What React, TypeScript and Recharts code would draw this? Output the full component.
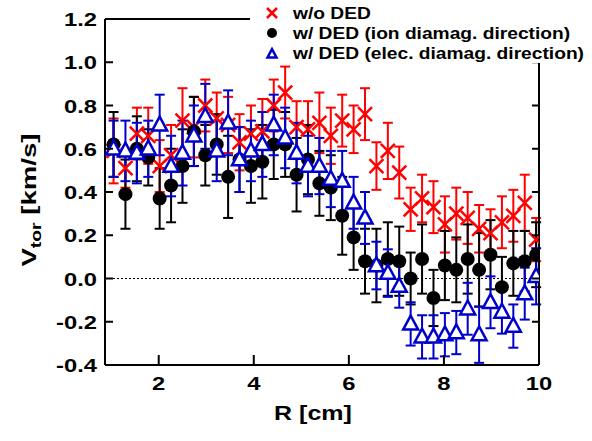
import React from "react";
import {
  ScatterChart,
  Scatter,
  XAxis,
  YAxis,
  ErrorBar,
  ReferenceLine,
  Legend,
} from "recharts";

// radial positions [cm]
const R = [
  1.05, 1.3, 1.54, 1.78, 2.02, 2.26, 2.5, 2.74, 2.98, 3.22, 3.46, 3.7, 3.94,
  4.18, 4.42, 4.66, 4.9, 5.14, 5.38, 5.62, 5.86, 6.1, 6.34, 6.58, 6.82, 7.06,
  7.3, 7.54, 7.78, 8.02, 8.26, 8.5, 8.74, 8.98, 9.22, 9.46, 9.7, 9.94,
];

// w/o DED
const woDED = [
  0.59, 0.51, 0.67, 0.66, 0.52, 0.57, 0.73, 0.7, 0.8, 0.74, 0.71, 0.63, 0.67,
  0.68, 0.8, 0.86, 0.7, 0.69, 0.72, 0.66, 0.73, 0.69, 0.76, 0.52, 0.59, 0.49,
  0.32, 0.37, 0.33, 0.25, 0.3, 0.28, 0.23, 0.21, 0.26, 0.29, 0.35, 0.18,
];
const woDEDErr = [
  0.15, 0.09, 0.12, 0.13, 0.12, 0.14, 0.15, 0.14, 0.12, 0.12, 0.13, 0.13, 0.13,
  0.15, 0.12, 0.12, 0.12, 0.13, 0.14, 0.13, 0.12, 0.11, 0.12, 0.11, 0.13, 0.12,
  0.1, 0.11, 0.12, 0.13, 0.12, 0.12, 0.11, 0.11, 0.12, 0.12, 0.13, 0.1,
];

// w/ DED, ion diamagnetic direction
const ionDED = [
  0.62, 0.39, 0.6, 0.56, 0.37, 0.43, 0.52, 0.68, 0.57, 0.62, 0.47, 0.55, 0.52,
  0.54, 0.62, 0.62, 0.48, 0.55, 0.44, 0.42, 0.29, 0.19, 0.08, 0.06, 0.09, 0.08,
  0.0, 0.09, -0.09, 0.06, 0.04, 0.09, 0.04, 0.11, -0.04, 0.07, 0.08, 0.11,
];
const ionDEDErr = [
  0.15, 0.16, 0.15, 0.13, 0.14, 0.17, 0.17, 0.16, 0.14, 0.14, 0.19, 0.15, 0.17,
  0.17, 0.16, 0.15, 0.17, 0.16, 0.15, 0.15, 0.18, 0.15, 0.15, 0.17, 0.17, 0.16,
  0.12, 0.16, 0.13, 0.16, 0.15, 0.16, 0.17, 0.16, 0.14, 0.15, 0.14, 0.15,
];

// w/ DED, electron diamagnetic direction
const elecDED = [
  0.6, 0.59, 0.58, 0.6, 0.71, 0.52, 0.58, 0.66, 0.75, 0.59, 0.72, 0.55, 0.59,
  0.62, 0.71, 0.65, 0.58, 0.52, 0.52, 0.46, 0.45, 0.35, 0.28, 0.06, 0.025,
  -0.035, -0.21, -0.27, -0.27, -0.26, -0.25, -0.14, -0.26, -0.11, -0.155, -0.22,
  -0.07, 0.01,
];
const elecDEDErr = [
  0.13, 0.14, 0.14, 0.13, 0.14, 0.14, 0.15, 0.14, 0.15, 0.14, 0.15, 0.15, 0.14,
  0.15, 0.14, 0.14, 0.14, 0.14, 0.13, 0.13, 0.14, 0.12, 0.12, 0.11, 0.11, 0.1,
  0.1, 0.1, 0.1, 0.1, 0.1, 0.12, 0.13, 0.12, 0.1, 0.1, 0.12, 0.13,
];

const xTicks = [2, 4, 6, 8, 10];
const yTicks = [-0.4, -0.2, 0, 0.2, 0.4, 0.6, 0.8, 1.0, 1.2];

const RED = "#ff0000";
const BLUE = "#0000cc";
const FONT = "'Liberation Sans', Arial, sans-serif";
// the original's lettering is drawn a bit wider than Arial
const STRETCH = 1.25;

const toRows = (vals: number[], errs: number[]) =>
  R.map((x, i) => ({ x, y: vals[i], err: errs[i] }));

const redData = toRows(woDED, woDEDErr);
const blackData = toRows(ionDED, ionDEDErr);
const blueData = toRows(elecDED, elecDEDErr);

const Cross = ({ cx, cy, s = 7 }: any) => (
  <g stroke={RED} strokeWidth={2.5}>
    <line x1={cx - s} y1={cy - s} x2={cx + s} y2={cy + s} />
    <line x1={cx - s} y1={cy + s} x2={cx + s} y2={cy - s} />
  </g>
);

const Dot = ({ cx, cy, r = 7 }: any) => <circle cx={cx} cy={cy} r={r} fill="#000" />;

const Tri = ({ cx, cy, s = 7.5 }: any) => (
  <polygon
    points={`${cx},${cy - s * 1.1} ${cx - s},${cy + s * 0.75} ${cx + s},${cy + s * 0.75}`}
    fill="#fff"
    stroke={BLUE}
    strokeWidth={2.5}
  />
);

// bold text, widened around its anchor point
const Wide = ({ x, y, anchor = "start", size, sx = STRETCH, rotate = 0, children }: any) => (
  <text
    transform={`translate(${x},${y}) rotate(${rotate}) scale(${sx},1)`}
    textAnchor={anchor}
    fontSize={size}
    fontWeight="bold"
    fontFamily={FONT}
  >
    {children}
  </text>
);

const BottomTick = ({ x, y, payload }: any) => (
  <g>
    <line x1={x} y1={y} x2={x} y2={y - 10} stroke="#000" strokeWidth={2} />
    <Wide x={x} y={y + 25} anchor="middle" size={19}>
      {payload.value}
    </Wide>
  </g>
);

const TopTick = ({ x, y }: any) => (
  <line x1={x} y1={y} x2={x} y2={y + 9} stroke="#000" strokeWidth={2} />
);

const LeftTick = ({ x, y, payload }: any) => (
  <g>
    <line x1={x} y1={y} x2={x} y2={y} stroke="none" />
    <line x1={x} y1={y} x2={x + 8} y2={y} stroke="#000" strokeWidth={2} />
    <Wide x={x - 8} y={y + 7} anchor="end" size={19}>
      {Number(payload.value).toFixed(1)}
    </Wide>
  </g>
);

const RightTick = ({ x, y }: any) => (
  <line x1={x} y1={y} x2={x - 7} y2={y} stroke="#000" strokeWidth={2} />
);

const YTitle = () => (
  <Wide x={36} y={200} anchor="middle" size={20} sx={1.38} rotate={-90}>
    V<tspan fontSize={14} dy={5}>tor</tspan>
    <tspan dy={-5}> [km/s]</tspan>
  </Wide>
);

const XTitle = () => (
  <Wide x={313} y={420} anchor="middle" size={20} sx={1.25}>
    R [cm]
  </Wide>
);

const legendRows = [
  { name: "w/o DED", kind: "x" },
  { name: "w/ DED (ion diamag. direction)", kind: "o" },
  { name: "w/ DED (elec. diamag. direction)", kind: "t" },
];

const LegendBox = () => (
  <svg width={342} height={63}>
    {legendRows.map((row, i) => {
      const cy = 13 + i * 20;
      const cx = 22;
      return (
        <g key={row.name}>
          {row.kind === "x" && <Cross cx={cx} cy={cy} s={5} />}
          {row.kind === "o" && <Dot cx={cx} cy={cy} r={5} />}
          {row.kind === "t" && <Tri cx={cx} cy={cy + 1} s={4.5} />}
          <Wide x={43} y={cy + 6} size={16} sx={1.2}>
            {row.name}
          </Wide>
        </g>
      );
    })}
  </svg>
);

export default function App() {
  return (
    <div style={{ position: "absolute", left: 0, top: 0 }}>
      <ScatterChart width={592} height={441} margin={{ top: 0, right: 0, bottom: 0, left: 0 }}>
        <XAxis
          xAxisId="b"
          type="number"
          dataKey="x"
          domain={[0.87, 10]}
          ticks={xTicks}
          allowDataOverflow
          height={76}
          tickSize={0}
          tickMargin={0}
          tickLine={false}
          tick={<BottomTick />}
          axisLine={{ stroke: "#000", strokeWidth: 2 }}
          label={{ content: () => <XTitle /> }}
        />
        <XAxis
          xAxisId="t"
          orientation="top"
          type="number"
          domain={[0.87, 10]}
          ticks={[2, 4, 6, 8]}
          allowDataOverflow
          height={19}
          tickSize={0}
          tickMargin={0}
          tickLine={false}
          tick={<TopTick />}
          axisLine={{ stroke: "#000", strokeWidth: 2 }}
        />
        <YAxis
          yAxisId="l"
          type="number"
          dataKey="y"
          domain={[-0.4, 1.2]}
          ticks={yTicks}
          allowDataOverflow
          width={105}
          tickSize={0}
          tickMargin={0}
          tickLine={false}
          tick={<LeftTick />}
          axisLine={{ stroke: "#000", strokeWidth: 2 }}
          label={{ content: () => <YTitle /> }}
        />
        <YAxis
          yAxisId="r"
          orientation="right"
          type="number"
          domain={[-0.4, 1.2]}
          ticks={yTicks}
          allowDataOverflow
          width={53}
          tickSize={0}
          tickMargin={0}
          tickLine={false}
          tick={<RightTick />}
          axisLine={{ stroke: "#000", strokeWidth: 2 }}
        />
        <ReferenceLine
          xAxisId="b"
          yAxisId="l"
          y={0}
          stroke="#000"
          strokeWidth={1}
          strokeDasharray="2 2"
        />
        <Scatter
          name="w/o DED"
          xAxisId="b"
          yAxisId="l"
          data={redData}
          shape={(p: any) => <Cross cx={p.cx} cy={p.cy} />}
          isAnimationActive={false}
        >
          <ErrorBar dataKey="err" direction="y" width={5} stroke={RED} strokeWidth={2} isAnimationActive={false} />
        </Scatter>
        <Scatter
          name="w/ DED (ion diamag. direction)"
          xAxisId="b"
          yAxisId="l"
          data={blackData}
          shape={(p: any) => <Dot cx={p.cx} cy={p.cy} />}
          isAnimationActive={false}
        >
          <ErrorBar dataKey="err" direction="y" width={5} stroke="#000" strokeWidth={2} isAnimationActive={false} />
        </Scatter>
        <Scatter
          name="w/ DED (elec. diamag. direction)"
          xAxisId="b"
          yAxisId="l"
          data={blueData}
          shape={(p: any) => <Tri cx={p.cx} cy={p.cy} />}
          isAnimationActive={false}
        >
          <ErrorBar dataKey="err" direction="y" width={5} stroke={BLUE} strokeWidth={2} isAnimationActive={false} />
        </Scatter>
        <Legend
          layout="vertical"
          align="center"
          verticalAlign="middle"
          content={() => <LegendBox />}
          wrapperStyle={{
            position: "absolute",
            left: 250,
            top: 0,
            width: 342,
            height: 63,
            background: "#fff",
          }}
        />
      </ScatterChart>
    </div>
  );
}
